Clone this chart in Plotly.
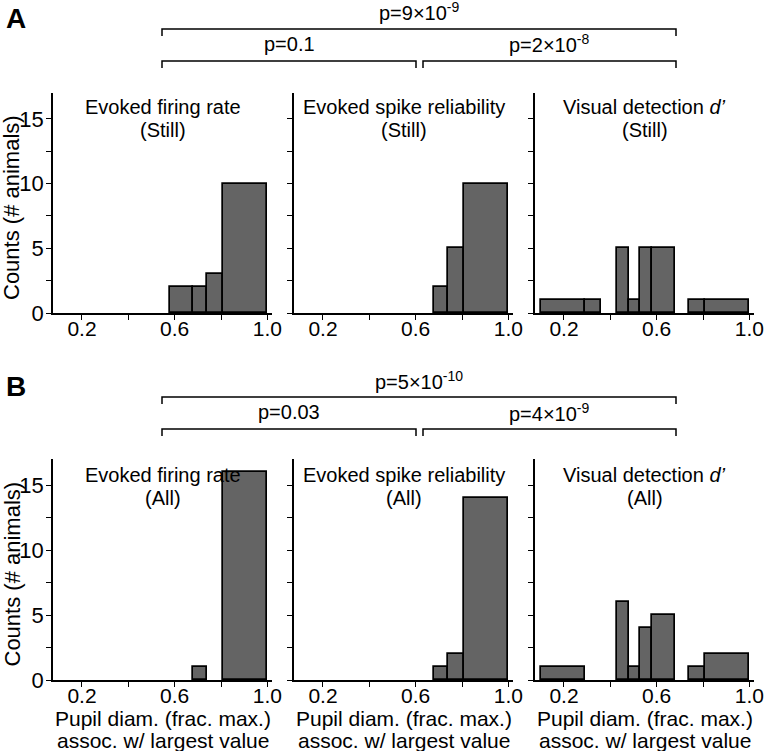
import plotly.graph_objects as go

# bin edges (pupil diameter, fraction of max) shared by all histograms
bin_edges = [0.10, 0.29, 0.36, 0.43, 0.48, 0.53, 0.58, 0.68, 0.74, 0.81, 1.00]

# counts per bin (# animals)
still_firing = [0, 0, 0, 0, 0, 0, 2, 2, 3, 10]
still_reliability = [0, 0, 0, 0, 0, 0, 0, 2, 5, 10]
still_dprime = [1, 1, 0, 5, 1, 5, 5, 0, 1, 1]
all_firing = [0, 0, 0, 0, 0, 0, 0, 1, 0, 16]
all_reliability = [0, 0, 0, 0, 0, 0, 0, 1, 2, 14]
all_dprime = [1, 0, 0, 6, 1, 4, 5, 0, 1, 2]

panel_titles = ["Evoked firing rate", "Evoked spike reliability", "Visual detection <i>d’</i>"]
row_labels = ["A", "B"]
row_states = ["(Still)", "(All)"]
p_values = [
    ["p=9×10<sup>-9</sup>", "p=0.1", "p=2×10<sup>-8</sup>"],
    ["p=5×10<sup>-10</sup>", "p=0.03", "p=4×10<sup>-9</sup>"],
]
x_title = ["Pupil diam. (frac. max.)", "assoc. w/ largest value"]

x_ticks = [0.2, 0.4, 0.6, 0.8, 1.0]
x_ticktext = ["0.2", "", "0.6", "", "1.0"]
y_ticks = [0, 2.5, 5, 7.5, 10, 12.5, 15]
y_ticktext = ["0", "", "5", "", "10", "", "15"]

counts = [[still_firing, still_reliability, still_dprime],
          [all_firing, all_reliability, all_dprime]]

W, H = 766, 751
FONT = "Liberation Sans, Arial, sans-serif"
BAR_FILL = "#646464"


def px(x):
    return x / W


def py(y):
    return 1 - y / H


col_px = [(53, 272), (294, 513), (535, 754)]
row_px = [(93, 313), (459, 680)]  # top, bottom of plot area
row_off = [0, 368]

fig = go.Figure()
layout = dict(
    width=W, height=H, margin=dict(l=0, r=0, t=0, b=0),
    plot_bgcolor="white", paper_bgcolor="white", showlegend=False,
    font=dict(family=FONT, size=21, color="black"),
    bargap=0,
)
annotations = []
shapes = []


def text_at(x, y, txt, size, **kw):
    annotations.append(dict(
        x=px(x), y=py(y), xref="paper", yref="paper", text=txt, showarrow=False,
        xanchor="center", yanchor="middle", font=dict(size=size), **kw,
    ))


for r in range(2):
    for c in range(3):
        k = r * 3 + c + 1
        xa = "x" if k == 1 else f"x{k}"
        ya = "y" if k == 1 else f"y{k}"
        ys = counts[r][c]
        xs, hs, ws = [], [], []
        for i, v in enumerate(ys):
            if v > 0:
                xs.append((bin_edges[i] + bin_edges[i + 1]) / 2)
                ws.append(bin_edges[i + 1] - bin_edges[i])
                hs.append(v)
        fig.add_trace(go.Bar(
            x=xs, y=hs, width=ws, xaxis=xa, yaxis=ya,
            marker=dict(color=BAR_FILL, line=dict(color="black", width=1.7)),
            hoverinfo="x+y",
        ))
        x0, x1 = col_px[c]
        top, bot = row_px[r]
        layout[f"xaxis{'' if k == 1 else k}"] = dict(
            domain=[px(x0), px(x1)], anchor=ya, range=[0.075, 1.02],
            tickvals=x_ticks, ticktext=x_ticktext, ticks="outside", ticklen=5,
            tickwidth=1.2, tickcolor="black", showline=True, linecolor="black",
            linewidth=1.5, showgrid=False, zeroline=False, automargin=False,
            tickfont=dict(size=21), ticklabelstandoff=-9, fixedrange=True,
        )
        layout[f"yaxis{'' if k == 1 else k}"] = dict(
            domain=[py(bot), py(top)], anchor=xa, range=[0, 17],
            tickvals=y_ticks, ticktext=y_ticktext if c == 0 else [""] * len(y_ticks),
            ticks="outside", ticklen=5, tickwidth=1.2, tickcolor="black",
            showline=True, linecolor="black", linewidth=1.5, showgrid=False,
            zeroline=False, automargin=False, tickfont=dict(size=22),
            ticklabelstandoff=-2, fixedrange=True,
        )
        cx = (x0 + x1) / 2
        text_at(cx, 107 + row_off[r], panel_titles[c], 20)
        text_at(cx, 130 + row_off[r], row_states[r], 20)
        if r == 1:
            text_at(cx, 718, x_title[0], 21)
            text_at(cx, 740, x_title[1], 21)
    # y axis title
    text_at(12, (row_px[r][0] + row_px[r][1]) / 2 + 5, "Counts (# animals)", 22, textangle=-90)
    # panel letter
    text_at(16, 19 + row_off[r], f"<b>{row_labels[r]}</b>", 28)

    # significance brackets
    o = row_off[r]
    brackets = [(162, 676, 29 + o), (162, 416, 61 + o), (423, 676, 61 + o)]
    for (bx0, bx1, by) in brackets:
        shapes.append(dict(
            type="path", xref="paper", yref="paper",
            path=f"M {px(bx0)},{py(by + 7)} L {px(bx0)},{py(by)} L {px(bx1)},{py(by)} L {px(bx1)},{py(by + 7)}",
            line=dict(color="black", width=1.5),
        ))
    label_pos = [((162 + 676) / 2, 12 + o), ((162 + 416) / 2, 44 + o), ((423 + 676) / 2, 44 + o)]
    for (lx, ly), txt in zip(label_pos, p_values[r]):
        text_at(lx, ly, txt, 20)

layout["annotations"] = annotations
layout["shapes"] = shapes
fig.update_layout(**layout)
fig.write_html("out.html", config={"displayModeBar": False},
               post_script="document.body.style.margin='0';document.body.style.overflow='hidden';")
